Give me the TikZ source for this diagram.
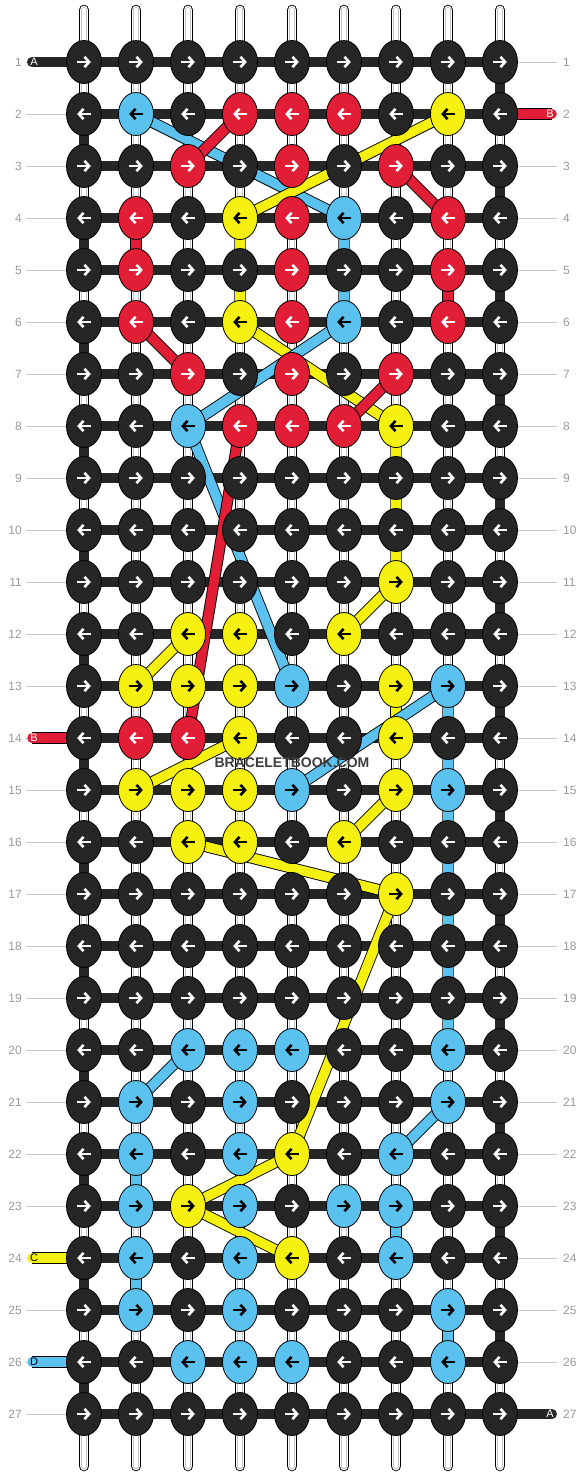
\documentclass[tikz,border=0pt]{standalone}
\usepackage{fontspec}
\setmainfont{Liberation Sans}
\usetikzlibrary{shapes.geometric,arrows.meta}

\definecolor{knotk}{HTML}{262626}
\definecolor{knotr}{HTML}{E21E36}
\definecolor{knotb}{HTML}{5BC1EE}
\definecolor{knoty}{HTML}{F5F010}
\colorlet{arrk}{white}
\colorlet{arrr}{white}
\colorlet{arrb}{black}
\colorlet{arry}{black}
\definecolor{tubegray}{HTML}{C4C4C4}
\definecolor{guidegray}{HTML}{C8C8C8}
\definecolor{labelgray}{HTML}{999999}
\definecolor{markgray}{HTML}{3C3C3C}

\pgfdeclarelayer{tubes}
\pgfdeclarelayer{bars}
\pgfdeclarelayer{strings}
\pgfsetlayers{tubes,bars,strings,main}

\tikzset{
  knot/.style={ellipse,draw=black,line width=0.8pt,minimum width=35pt,minimum height=43pt,inner sep=0pt},
  knotarrow/.style={line width=2.6pt,-{Straight Barb[length=4.6pt,width=10.4pt]}},
  tube/.style={draw=black,line width=10.6pt,line cap=round,
    postaction={draw=white,line width=8.8pt},
    postaction={draw=tubegray,line width=6.2pt},
    postaction={draw=white,line width=4.2pt}},
  bar/.style={draw=knotk,line width=10pt},
  colstring/.style={draw=#1,line width=9.6pt,preaction={draw=black,line width=11.4pt}},
  guide/.style={draw=guidegray,line width=0.9pt},
  rownum/.style={text=labelgray,font=\fontsize{12}{12}\selectfont,inner sep=0pt},
  endlabel/.style={font=\fontsize{11}{11}\selectfont,inner sep=0pt}
}

\begin{document}
\begin{tikzpicture}[x=1pt,y=-1pt]
\useasboundingbox (0,0) rectangle (584,1476);

\foreach \cols [count=\r] in {
  {k,k,k,k,k,k,k,k,k},
  {k,b,k,r,r,r,k,y,k},
  {k,k,r,k,r,k,r,k,k},
  {k,r,k,y,r,b,k,r,k},
  {k,r,k,k,r,k,k,r,k},
  {k,r,k,y,r,b,k,r,k},
  {k,k,r,k,r,k,r,k,k},
  {k,k,b,r,r,r,y,k,k},
  {k,k,k,k,k,k,k,k,k},
  {k,k,k,k,k,k,k,k,k},
  {k,k,k,k,k,k,y,k,k},
  {k,k,y,y,k,y,k,k,k},
  {k,y,y,y,b,k,y,b,k},
  {k,r,r,y,k,k,y,k,k},
  {k,y,y,y,b,k,y,b,k},
  {k,k,y,y,k,y,k,k,k},
  {k,k,k,k,k,k,y,k,k},
  {k,k,k,k,k,k,k,k,k},
  {k,k,k,k,k,k,k,k,k},
  {k,k,b,b,b,k,k,b,k},
  {k,b,k,b,k,k,k,b,k},
  {k,b,k,b,y,k,b,k,k},
  {k,b,y,b,k,b,b,k,k},
  {k,b,k,b,y,k,b,k,k},
  {k,b,k,b,k,k,k,b,k},
  {k,k,b,b,b,k,k,b,k},
  {k,k,k,k,k,k,k,k,k}}{
  \foreach \col [count=\c] in \cols {
    \node[knot,fill=knot\col] (k\r-\c) at ({32+52*\c},{10+52*\r}) {};
    \pgfmathsetmacro\ab{ifthenelse(mod(\r,2)==1,6.8,-6.8)}
    \pgfmathsetmacro\am{-(\ab)}
    \draw[knotarrow,draw=arr\col] ([xshift=\am pt]k\r-\c.center) -- ([xshift=\ab pt]k\r-\c.center);
  }
}

\begin{pgfonlayer}{tubes}
\foreach \c in {1,...,9}{
  \coordinate (top\c) at ({32+52*\c},10);
  \coordinate (bot\c) at ({32+52*\c},1466);
  \draw[tube] (top\c) -- (bot\c);
}
\foreach \r in {1,...,27}{
  \coordinate (gl\r) at (26,{10+52*\r});
  \coordinate (gr\r) at (557,{10+52*\r});
  \draw[guide] (gl\r) -- (k\r-1);
  \draw[guide] (k\r-9) -- (gr\r);
}
\end{pgfonlayer}

\begin{pgfonlayer}{bars}
\foreach \r in {1,...,27}
  \draw[bar] (k\r-1.center) -- (k\r-9.center);
\foreach \r [evaluate=\r as \s using {int(\r+1)}] in {2,4,...,26}
  \draw[bar] (k\r-1.center) -- (k\s-1.center);
\foreach \r [evaluate=\r as \s using {int(\r+1)}] in {1,3,...,25}
  \draw[bar] (k\r-9.center) -- (k\s-9.center);
\coordinate (endA1) at (32,62);
\coordinate (endA27) at (552,1414);
\draw[bar,line cap=round] (endA1) -- (k1-1.center);
\draw[bar,line cap=round] (k27-9.center) -- (endA27);
\end{pgfonlayer}

\begin{pgfonlayer}{strings}
\coordinate (endB2) at (552,114);
\coordinate (endB14) at (32,738);
\coordinate (endC24) at (32,1258);
\coordinate (endD26) at (32,1362);
\draw[colstring=knotr,line cap=round] (k2-9.center) -- (endB2);
\draw[colstring=knotr,line cap=round] (endB14) -- (k14-1.center);
\draw[colstring=knoty,line cap=round] (endC24) -- (k24-1.center);
\draw[colstring=knotb,line cap=round] (endD26) -- (k26-1.center);

\draw[colstring=knotb] (k2-2.center) -- (k4-6.center);
\draw[colstring=knoty] (k2-8.center) -- (k4-4.center);

\draw[colstring=knoty] (k4-4.center) -- (k6-4.center) -- (k8-7.center) -- (k11-7.center) -- (k12-6.center);
\draw[colstring=knoty] (k12-3.center) -- (k13-2.center);
\draw[colstring=knoty] (k13-7.center) -- (k14-7.center);
\draw[colstring=knoty] (k15-2.center) -- (k14-4.center);
\draw[colstring=knoty] (k15-7.center) -- (k16-6.center);
\draw[colstring=knoty] (k16-3.center) -- (k17-7.center) -- (k22-5.center) -- (k23-3.center) -- (k24-5.center);

\draw[colstring=knotb] (k4-6.center) -- (k6-6.center) -- (k8-3.center) -- (k13-5.center);
\draw[colstring=knotb] (k15-5.center) -- (k13-8.center) -- (k20-8.center);
\draw[colstring=knotb] (k20-3.center) -- (k21-2.center);
\draw[colstring=knotb] (k22-2.center) -- (k23-2.center);
\draw[colstring=knotb] (k24-2.center) -- (k25-2.center);
\draw[colstring=knotb] (k21-8.center) -- (k22-7.center);
\draw[colstring=knotb] (k23-7.center) -- (k24-7.center);
\draw[colstring=knotb] (k25-8.center) -- (k26-8.center);

\draw[colstring=knotr] (k2-4.center) -- (k3-3.center);
\draw[colstring=knotr] (k4-2.center) -- (k5-2.center);
\draw[colstring=knotr] (k6-2.center) -- (k7-3.center);
\draw[colstring=knotr] (k3-7.center) -- (k4-8.center);
\draw[colstring=knotr] (k5-8.center) -- (k6-8.center);
\draw[colstring=knotr] (k7-7.center) -- (k8-6.center);
\draw[colstring=knotr] (k8-4.center) -- (k14-3.center);
\end{pgfonlayer}

\node[endlabel,text=white] (lblA1) at (34,62) {A};
\node[endlabel,text=white] (lblB2) at (550,114) {B};
\node[endlabel,text=white] (lblB14) at (34,738) {B};
\node[endlabel,text=black] (lblC24) at (34,1258) {C};
\node[endlabel,text=black] (lblD26) at (34,1362) {D};
\node[endlabel,text=white] (lblA27) at (550,1414) {A};

\foreach \r in {1,...,27}{
  \node[rownum,anchor=east] (numl\r) at (22,{10+52*\r}) {\r};
  \node[rownum,anchor=west] (numr\r) at (563,{10+52*\r}) {\r};
}

\node[text=markgray,font=\bfseries\fontsize{14}{14}\selectfont] (watermark) at (292,763) {BRACELETBOOK.COM};
\end{tikzpicture}
\end{document}
